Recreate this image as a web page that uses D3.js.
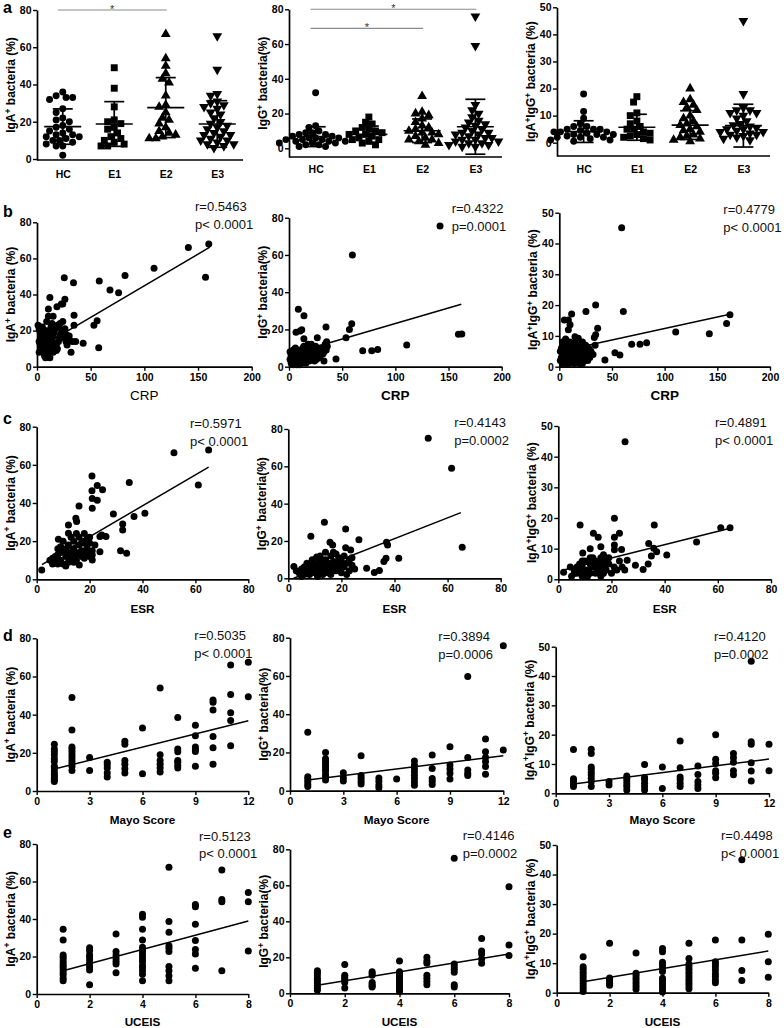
<!DOCTYPE html>
<html><head><meta charset="utf-8">
<script src="https://cdn.jsdelivr.net/npm/d3@7"></script>
<style>body{margin:0;background:#fff}</style>
</head><body><svg id="c" width="784" height="1028"></svg>
<script>
// ---------------- DATA ----------------
const groupCats = ["HC","E1","E2","E3"];
const igaGroups = [
 [36,33,34,32,33,27,25,22,21,20,18,17,16,15,14,13,13,12,12,11,10,10,9,8,7,7,2],
 [49,38,28,21,20,19,17,16,14,12,11,10,9,8,7,7],
 [67,54,50,46,43,41,34,29,28,25,22,21,19,17,15,14,13,12,11,11],
 [66,48,35,34,31,30,29,28,27,25,24,22,20,19,18,17,16,15,14,13,13,12,11,10,10,9,8,8,7,6]];
const igaMean = [17.4,18.8,27.6,18.8];
const igaSD = [9.5,12,16.1,12.5];
const iggGroups = [
 [32,13,12,10,9,9,8,8,7,7,6,6,5,5,5,4,4,4,3,3,2,2,1,1,3,6],
 [18,15,14,12,11,10,10,9,8,8,7,6,5,5,4,3,2],
 [30,21,20,19,17,15,13,12,11,10,9,9,8,7,6,5,5,4,3,2],
 [76,59,25,22,20,18,16,15,14,13,12,11,10,9,9,8,8,7,6,6,5,5,4,4,3,3,2,2,1,1]];
const iggMean = [6.7,8,10.1,12.4];
const iggSD = [5.7,4.8,6.8,15.8];
const dblGroups = [
 [18,11.5,9,7,6,5,5,4.5,4,4,3.5,3,3,2.5,2,2,1.5,1,1,0.5,3,4,5,6,2],
 [17,15,11,10,8,7,6,5,5,4,3.5,3,2.5,2,1.5,1],
 [20,16,15,14,13,12,10,9,8,7,6.5,6,5,4.5,4,3,2.5,2,1.5,1,0.5],
 [45,18,13,12,12,11,11,10,9,8,7,6.5,6,5.5,5,5,4.5,4,4,3.5,3,3,2.5,2,1.5,1]];
const dblMean = [4.1,5.7,6.5,6.3];
const dblSD = [4.0,4.8,5.3,7.9];
// significance bars: [group i, group j, y value, label]
const sigIgA = [[0,2,80,"*"]];
const sigIgG = [[0,3,80,"*"],[0,2,69,"*"]];

const crpIgA = [[141,66],[160,68],[157,49.5],[109,54.5],[82,50.5],[76,41],[68,42.5],[58,47.5],[57.5,10.5],[56,25.5],[53,23],[43,13],[34,46.5],[34.5,28.5],[34.5,23],[36,14],[31.7,8],[25.4,49.3],[26,37.3],[24,34.7],[22.7,34.7],[18.6,33.2],[12,38.4],[10.6,32],[10.6,28],[15,28],[21.4,24],[24,25],[27.6,17.6],
 [1,23],[2,21],[3,19],[5,22],[6,20],[7,18],[8,16],[9,14],[4,15],[2,14],[3,12],[5,10],[6,9],[2,8],[7,6],[8,5],[10,7],[11,9],[12,11],[13,13],[14,15],[15,17],[16,19],[17,21],[18,12],[19,10],[20,14],[21,16],[22,18],[23,20],[12,16],[11,19],[13,22],[14,24],[9,12],[10,15],[16,13],[18,9],[20,22],[25,16],[27,14],[29,15],[30,17],[33,14],[6,13],[4,17],[8,20],[15,8],[17,11],[19,23],[26,21],[28,12],[12,5],[9,25],[14,19]];
const crpIgG = [[59.6,60],[142,75.5],[159.3,17.4],[162.5,17.6],[8.8,30.8],[14.1,27.4],[34.8,21.3],[59,23],[56.8,20],[53.6,15.5],[6.6,18.5],[12,19.8],[10.4,19.2],[14,15],[69.3,8.6],[77.8,8.6],[83.4,9.3],[110.7,11.6],[44.2,4.1],[32.9,3],[35.4,13.4],[26.6,15.5],
 [1,8],[2,6],[3,5],[4,9],[5,3],[6,7],[7,4],[8,2],[9,6],[10,8],[11,3],[12,5],[13,10],[14,7],[15,4],[16,9],[17,11],[18,6],[19,3],[20,8],[21,12],[22,5],[23,9],[24,7],[25,11],[26,4],[27,8],[28,6],[30,10],[32,7],[34,12],[35,9],[2,2],[4,1],[6,10],[8,9],[10,1],[12,2],[14,11],[16,2],[18,12],[20,4],[22,10],[3,7],[5,6],[7,8],[9,5],[11,6],[13,3],[15,7],[17,5],[19,9],[21,6],[24,3],[26,10],[29,5],[33,8],[36,11],[1,4],[7,1]];
const crpDbl = [[59.2,45.1],[34.5,20],[60.8,17.9],[25.3,17.9],[11.7,17.1],[4.8,15.2],[8.6,15.2],[10.2,13.6],[36.4,12.5],[34.5,10.4],[33.2,9.5],[110.5,11.3],[142.4,10.7],[158.8,14],[162,16.9],[68.7,7.3],[76.6,7.3],[82.9,7.8],[52.8,4.5],[57.5,3.8],[43.3,2.2],[25,2.7],[14.9,9.7],[18,9.2],[8.6,12],
 [1,5],[2,3],[3,1],[4,6],[5,2],[6,4],[7,1],[8,7],[9,3],[10,5],[11,2],[12,6],[13,4],[14,1],[15,8],[16,3],[17,5],[18,2],[19,7],[20,4],[21,6],[22,1],[23,3],[24,5],[25,7],[26,4],[27,2],[28,6],[30,5],[32,4],[34,7],[2,6],[4,3],[6,2],[8,5],[10,8],[12,3],[14,6],[16,7],[18,4],[20,2],[3,8],[5,5],[7,4],[9,1],[11,7],[13,2],[15,5],[17,3],[19,1],[24,2],[29,3],[1,2],[6,9],[22,8]];

const esrIgA = [[1.9,4.9],[51.9,66.4],[65,67.8],[61.1,49.4],[35,50.8],[40.9,34.6],[36.8,32.9],[29,34.2],[32.5,29],[32.5,25.8],[31.7,15],[34,13.6],[20.9,54.2],[20.9,46.4],[21,42.4],[22.9,49.2],[22.9,41.5],[24.9,47],[21,37.2],[16,38.4],[14.8,32],[15.1,30.3],[12,28.5],[12,24.1],[24.6,23.2],[26.2,22.4],[23.9,22.4],[23.9,14.5],[21,12.8],[21,10.1],[16.1,7.5],[8.2,21],
 [5,10],[6,11],[7,12],[7,9],[8,13],[8,8],[9,14],[9,10],[10,16],[10,8],[11,12],[11,15],[12,18],[12,9],[13,14],[13,11],[14,20],[14,16],[15,13],[15,10],[16,22],[16,18],[17,15],[17,12],[18,24],[18,20],[19,17],[19,14],[20,22],[20,19],[21,15],[22,18],[9,17],[10,20],[11,7],[13,22],[8,16],[12,13],[6,8],[14,9],[16,14],[18,11],[19,21],[20,12],[17,19],[15,24]];
const esrIgG = [[52.7,75],[61.5,59],[65.5,16.7],[13.6,30],[21.6,26.4],[8.5,22.5],[26.6,20.7],[37,19.3],[37.4,17.8],[15.7,19.3],[16.7,17.8],[21.6,16.4],[23.5,15.2],[10.7,11.4],[41.6,10.7],[36.8,10.7],[36,9],[29.5,5.4],[34.3,4.2],[32.4,3.1],[2.1,6.3],
 [4,3],[5,5],[6,2],[6,6],[7,4],[8,7],[8,2],[9,5],[10,3],[10,8],[11,1],[11,6],[12,4],[12,9],[13,2],[13,7],[14,5],[14,10],[15,3],[15,8],[16,6],[16,12],[17,4],[17,9],[18,7],[18,13],[19,5],[19,11],[20,3],[20,9],[21,6],[21,12],[22,8],[23,4],[23,10],[24,7],[25,5],[12,12],[9,10],[7,8],[5,1],[11,3],[13,5],[16,2],[18,4],[20,7],[22,2],[24,11],[14,14],[17,14],[3,4],[10,5],[19,8]];
const esrDbl = [[25.1,44.9],[8.2,17.7],[21.1,19.9],[36.1,17.7],[64.6,16.8],[61.1,16.8],[52,12.2],[13.2,15],[15,13.7],[21.1,13.7],[23,15],[34,11.7],[35.9,10.1],[37,9],[40.8,7.9],[35,7.6],[33.8,5],[31.9,3.2],[29,4.6],[25.9,6.2],[23.8,9.7],[21.1,11.2],[21.1,9.6],[16,10.6],[12,10],[9.2,8.6],[2,2.3],[4.5,4],
 [5,1],[6,3],[6,2],[7,4],[7,2],[8,3],[8,5],[9,1],[9,4],[10,2],[10,6],[11,3],[11,1],[12,5],[12,2],[13,4],[13,7],[14,2],[14,6],[15,3],[15,5],[16,1],[16,7],[17,4],[17,2],[18,6],[18,3],[19,5],[20,2],[21,4],[22,3],[23,6],[24,4],[25,3],[19,7],[17,8],[16,5],[12,7],[9,6]];

const mayoLevels = [1,2,3,4,5,6,7,8,9,10,11,12];
const mayoIgA = [[24.5,22,20.5,19,17,15.5,13,12,10.5,9,8,7,6,5],[49,32,23,22,20.5,19,17.5,16,14.5,13,10.8],[17.5,10.8],[15,13.7,12,9.4,7.3],[26,24.5,16,14,11.6,9.4],[33,9],[54,19,16,14,12,10],[38.5,22,20.5,16,15,13.5,12],[34.5,29,23,22,20.7,13],[47.7,46.5,42.4,28.5,22.7,14],[66,50.5,41,37,23.7],[67.4,49.4]];
const mayoIgG = [[30.5,7.3,6.1,4.8,3.4,2.2],[20,16.7,15.4,14,12.8,11.4,10.3,8.5,7.1,5.6],[9.4,6.8,5.1],[18.3,8,6.5,5,3.5],[6.6,5,3,1.6],[6.1],[15.5,13.4,11.6,9.9,8.1,6.4,4.6,2.9],[18.7,11.6,6.4,5,3.3],[23,13.4,11.3,9.1,6.1],[59.7,17.4,10.8,9.1,8],[27,20.4,17.4,15.2,12.6,8.6],[75.8,21.3]];
const mayoDbl = [[14.9,5,4.2,3.2,2.3],[15,13.6,9,8.2,7.2,6.2,5.1,4,2.3],[4,2.8],[5.9,5.1,4.2,3.2,2.3,1.1],[9.8,5.4,4.6,3.4,2.3,1.1],[9,1.6],[17.8,8.7,5.6,4.6,3.4,2.3],[9.3,6.4,4,2.8,1.6],[20,11.6,10.2,7.7,6.8,5.3],[13.6,12.1,10.6,7.7,6.3],[45,17.6,16.7,10.4,7.6,4.2],[16.7,7.7]];

const uceisLevels = [1,2,3,4,5,6,7,8];
const uceisIgA = [[34.5,28.8,20.8,19.6,18.1,16.7,15.4,14.2,12.8,11.4,10.1,8.4,7.1],[24.7,23.1,20.8,19.9,18.1,16.4,14.6,12.8,5],[32,22.7,20.8,19,17.3,16,11.4],[42.5,40.9,34.5,28.8,24.9,23.5,22,20.4,19,17.3,15.4,14,12.4,10.6,7.1],[67.6,38.7,32.9,25.8,24.4,22.7,14.7,12.4,9.7,7.1],[47.8,46.6,37.2,28.5,23.8,21.3,13.7],[66.1,50.4,49.2,12.4],[54.2,49.2,23]];
const uceisIgG = [[12.5,11.5,10.2,8.4,7.2,5.7,4.3,3,1.7],[16,10,9,8,7,6,3],[12,11,10,6,5,4,3.5],[18,12,11,10,9,8,7,6,5,4,3,2,1],[20,18,16.7,10,8.4,6.6,4.8],[75,16.3,14.8,13.3,11.7,4.8,3.5],[30.5,23.5,21.8,19.1,16.7],[59.2,26.9,21]];
const uceisDbl = [[12.2,8.8,7.9,6.9,6,5.1,4.1,3.2,2.3,1.3,0.4],[16.7,5,4.5,4,3.2,2.5],[13.4,6.6,5.8,4.9,4,3,2.1,1.2],[15,13.9,10.3,9.4,8.3,7.2,4.9,4,3,2.1,1.2,0.2],[16.7,11.6,9.7,8.8,7.9,6.9,6,5.1,4.1,3.2,2.3,1.3],[17.8,10.5,9.7,8.8,7.7,6.4,5.5,4.3,3.4],[45,17.8,7.5,4.1],[19.8,10.5,5.2]];

// regression lines [x0,y0,x1,y1] in data units
const fitCrp = [[1,10.2,161,66.2],[1,6.7,162,33.5],[1,5,162,17]];
const fitEsr = [[2,7.7,65,58.8],[2,0,65,35.2],[2,3,65,16.7]];
const fitMayo = [[1,11.5,12,36.8],[1,5.6,12,18.3],[1,3.2,12,11.7]];
const fitUceis = [[1,12.4,8,38.9],[1,4.5,8,21.8],[1,3.7,8,14.1]];
const statsCrp = [["r=0.5463","p< 0.0001"],["r=0.4322","p=0.0001"],["r=0.4779","p< 0.0001"]];
const statsEsr = [["r=0.5971","p< 0.0001"],["r=0.4143","p=0.0002"],["r=0.4891","p< 0.0001"]];
const statsMayo = [["r=0.5035","p< 0.0001"],["r=0.3894","p=0.0006"],["r=0.4120","p=0.0002"]];
const statsUceis = [["r=0.5123","p< 0.0001"],["r=0.4146","p=0.0002"],["r=0.4498","p< 0.0001"]];

const crpTicks = [0,50,100,150,200], esrTicks = [0,20,40,60,80], mayoTicks = [0,3,6,9,12], uceisTicks = [0,2,4,6,8];
const ticks80 = [0,20,40,60,80], ticks50 = [0,10,20,30,40,50];
const titleIgA = [["IgA",0],["+",1],[" bacteria (%)",0]];
const titleIgG = [["IgG",0],["+",1],[" bacteria(%)",0]];
const titleDbl = [["IgA",0],["+",1],["IgG",0],["+",1],[" bacteria (%)",0]];

// ---------------- DRAWING ----------------
const svg = d3.select("#c");
const F = '"Liberation Sans", Arial, Helvetica, sans-serif';

function mkY(p0, vTop, pTop, axisPx) {
  const s = d3.scaleLinear().domain([0, vTop]).range([p0, pTop]);
  if (axisPx !== undefined) { const lo = s.invert(axisPx); s.domain([lo, vTop]).range([axisPx, pTop]); }
  return s;
}
function styleAxis(g) {
  g.select(".domain").attr("stroke", "#000").attr("stroke-width", 1.7);
  g.selectAll(".tick line").attr("stroke", "#000").attr("stroke-width", 1.4);
  g.selectAll(".tick text").attr("fill", "#000").style("font-family", F).style("font-weight", "bold").style("font-size", "10.5px");
}
function yAxis(x, y, ticks) {
  const g = svg.append("g").attr("transform", `translate(${x},0)`)
    .call(d3.axisLeft(y).tickValues(ticks).tickFormat(d3.format("d")).tickSize(4).tickSizeOuter(0).tickPadding(1.5));
  styleAxis(g);
}
function yTitle(x, y, segs) {
  const t = svg.append("text").attr("transform", `translate(${x},${y}) rotate(-90)`).attr("text-anchor", "middle")
    .style("font-family", F).style("font-weight", "bold").style("font-size", "12px").attr("fill", "#000");
  let up = false;
  segs.forEach(s => {
    const ts = t.append("tspan").text(s[0]);
    if (s[1] && !up) { ts.attr("dy", -4.5).style("font-size", "8.5px"); up = true; }
    else if (!s[1] && up) { ts.attr("dy", 4.5); up = false; }
    else if (s[1]) ts.style("font-size", "8.5px");
  });
}
function letter(ch, y) {
  svg.append("text").attr("x", 3).attr("y", y).text(ch).style("font-family", F).style("font-weight", "bold").style("font-size", "16px");
}

// ---- Row a: scatter dot plots ----
const shapes = [d3.symbolCircle, d3.symbolSquare, d3.symbolTriangle, d3.symbolTriangle];
const shapeSize = [38, 48, 42, 42];
const shapeRot = [0, 0, 0, 180];

function swarm(vals, cx, y) {
  const placed = [], out = [];
  const sorted = vals.slice().sort((a, b) => b - a);
  const step = 3.3, minD = 5.6;
  sorted.forEach(v => {
    const py = y(v);
    for (let k = 0; k < 20; k++) {
      const cands = k === 0 ? [0] : [-k * step, k * step];
      let done = false;
      for (const o of cands) {
        const px = cx + o;
        if (placed.every(p => Math.hypot(p[0] - px, p[1] - py) >= minD)) { placed.push([px, py]); out.push([px, py]); done = true; break; }
      }
      if (done) break;
    }
  });
  return out;
}

function dotPanel(cfg) {
  const y = mkY(cfg.y0, cfg.vTop, cfg.pTop, cfg.axisY);
  const x = d3.scalePoint().domain(groupCats).range([cfg.x0, cfg.x1]).padding(0.5);
  yAxis(cfg.x0, y, cfg.ticks);
  const gx = svg.append("g").attr("transform", `translate(0,${cfg.axisY})`)
    .call(d3.axisBottom(x).tickSize(0).tickSizeOuter(0).tickPadding(cfg.tickPad));
  gx.select(".domain").attr("d", `M${cfg.x0},0H${cfg.x1}`);
  styleAxis(gx);
  yTitle(cfg.x0 - 22, (cfg.axisY + cfg.pTop) / 2, cfg.title);
  groupCats.forEach((c, i) => {
    const pts = swarm(cfg.groups[i], x(c), y);
    svg.append("g").selectAll("path").data(pts).join("path")
      .attr("d", d3.symbol().type(shapes[i]).size(shapeSize[i]))
      .attr("transform", d => `translate(${d[0]},${d[1]}) rotate(${shapeRot[i]})`).attr("fill", "#000");
    const m = cfg.mean[i], s = cfg.sd[i], cx = x(c);
    const g = svg.append("g").attr("stroke", "#000").attr("stroke-width", 1.7);
    g.append("line").attr("x1", cx - 18.5).attr("x2", cx + 18.5).attr("y1", y(m)).attr("y2", y(m));
    g.append("line").attr("x1", cx).attr("x2", cx).attr("y1", y(m - s)).attr("y2", y(m + s));
    [m - s, m + s].forEach(v => g.append("line").attr("x1", cx - 10).attr("x2", cx + 10).attr("y1", y(v)).attr("y2", y(v)));
  });
  (cfg.sig || []).forEach(sg => {
    const x1 = x(groupCats[sg[0]]) - 5, x2 = x(groupCats[sg[1]]) + 1, yy = y(sg[2]);
    svg.append("line").attr("x1", x1).attr("x2", x2).attr("y1", yy).attr("y2", yy).attr("stroke", "#8a8a8a").attr("stroke-width", 1.1);
    svg.append("text").attr("x", (x1 + x2) / 2).attr("y", yy + 3).attr("text-anchor", "middle").text(sg[3])
      .style("font-family", F).style("font-size", "11px").attr("fill", "#333");
  });
}

dotPanel({groups: igaGroups, mean: igaMean, sd: igaSD, x0: 37, x1: 243, y0: 159, vTop: 80, pTop: 10, axisY: 160, ticks: ticks80, title: titleIgA, tickPad: 11, sig: sigIgA});
dotPanel({groups: iggGroups, mean: iggMean, sd: iggSD, x0: 289, x1: 502, y0: 148.3, vTop: 80, pTop: 9.3, axisY: 157, ticks: ticks80, title: titleIgG, tickPad: 9, sig: sigIgG});
dotPanel({groups: dblGroups, mean: dblMean, sd: dblSD, x0: 557, x1: 770, y0: 142.7, vTop: 50, pTop: 7.3, axisY: 156, ticks: ticks50, title: titleDbl, tickPad: 10});
letter("a", 12.7);

// ---- Scatter panels ----
function scatterPanel(cfg) {
  const y = mkY(cfg.y0, cfg.vTop, cfg.pTop);
  const x = d3.scaleLinear().domain([0, cfg.xMax]).range([cfg.x0, cfg.x1]);
  yAxis(cfg.x0, y, cfg.vTop === 50 ? ticks50 : ticks80);
  const gx = svg.append("g").attr("transform", `translate(0,${cfg.y0})`)
    .call(d3.axisBottom(x).tickValues(cfg.xTicks).tickFormat(d3.format("d")).tickSize(4).tickSizeOuter(0).tickPadding(2.5));
  styleAxis(gx);
  yTitle(cfg.x0 - 22, (cfg.y0 + cfg.pTop) / 2, cfg.title);
  svg.append("text").attr("x", (cfg.x0 + cfg.x1) / 2).attr("y", cfg.xtY).attr("text-anchor", "middle").text(cfg.xTitle)
    .style("font-family", F).style("font-weight", cfg.xtBold ? "bold" : "normal").style("font-size", cfg.xtSize + "px");
  svg.append("g").selectAll("circle").data(cfg.pts).join("circle")
    .attr("cx", d => x(d[0])).attr("cy", d => y(d[1])).attr("r", 3.5).attr("fill", "#000");
  const f = cfg.fit;
  svg.append("line").attr("x1", x(f[0])).attr("y1", y(f[1])).attr("x2", x(f[2])).attr("y2", y(f[3]))
    .attr("stroke", "#000").attr("stroke-width", 1.5);
  const t = svg.append("g").style("font-family", F).style("font-size", "13px").attr("fill", "#111");
  t.append("text").attr("x", cfg.sx).attr("y", cfg.sy).text(cfg.stats[0]);
  t.append("text").attr("x", cfg.sx).attr("y", cfg.sy + 17.5).text(cfg.stats[1]);
}
function expand(levels, groups) {
  const out = [];
  levels.forEach((l, i) => groups[i].forEach(v => out.push([l, v])));
  return out;
}

// Row b (CRP)
scatterPanel({pts: crpIgA, x0: 37, x1: 251.7, xMax: 200, xTicks: crpTicks, y0: 366.7, vTop: 80, pTop: 222.3, title: titleIgA, fit: fitCrp[0], stats: statsCrp[0], sx: 195, sy: 211, xTitle: "CRP", xtY: 400, xtBold: false, xtSize: 13.5});
scatterPanel({pts: crpIgG, x0: 289, x1: 501.7, xMax: 200, xTicks: crpTicks, y0: 366.7, vTop: 80, pTop: 217.7, title: titleIgG, fit: fitCrp[1], stats: statsCrp[1], sx: 451.7, sy: 213, xTitle: "CRP", xtY: 400, xtBold: true, xtSize: 13.5});
scatterPanel({pts: crpDbl, x0: 559.3, x1: 770, xMax: 200, xTicks: crpTicks, y0: 366.7, vTop: 50, pTop: 212.7, title: titleDbl, fit: fitCrp[2], stats: statsCrp[2], sx: 723.3, sy: 214, xTitle: "CRP", xtY: 400, xtBold: true, xtSize: 13.5});
letter("b", 216.7);

// Row c (ESR)
scatterPanel({pts: esrIgA, x0: 36.7, x1: 248.3, xMax: 80, xTicks: esrTicks, y0: 579.3, vTop: 80, pTop: 426.7, title: titleIgA, fit: fitEsr[0], stats: statsEsr[0], sx: 190, sy: 428, xTitle: "ESR", xtY: 613, xtBold: true, xtSize: 11.7});
scatterPanel({pts: esrIgG, x0: 288.3, x1: 500.7, xMax: 80, xTicks: esrTicks, y0: 578.3, vTop: 80, pTop: 429, title: titleIgG, fit: fitEsr[1], stats: statsEsr[1], sx: 454.3, sy: 427, xTitle: "ESR", xtY: 613, xtBold: true, xtSize: 11.7});
scatterPanel({pts: esrDbl, x0: 558.3, x1: 771, xMax: 80, xTicks: esrTicks, y0: 579.3, vTop: 50, pTop: 426, title: titleDbl, fit: fitEsr[2], stats: statsEsr[2], sx: 715, sy: 427, xTitle: "ESR", xtY: 613, xtBold: true, xtSize: 11.7});
letter("c", 424);

// Row d (Mayo)
scatterPanel({pts: expand(mayoLevels, mayoIgA), x0: 36.7, x1: 248.3, xMax: 12, xTicks: mayoTicks, y0: 791, vTop: 80, pTop: 638.3, title: titleIgA, fit: fitMayo[0], stats: statsMayo[0], sx: 194.3, sy: 640, xTitle: "Mayo Score", xtY: 824, xtBold: true, xtSize: 11.7});
scatterPanel({pts: expand(mayoLevels, mayoIgG), x0: 290, x1: 503.3, xMax: 12, xTicks: mayoTicks, y0: 790.7, vTop: 80, pTop: 637.7, title: titleIgG, fit: fitMayo[1], stats: statsMayo[1], sx: 438.3, sy: 641, xTitle: "Mayo Score", xtY: 824, xtBold: true, xtSize: 11.7});
scatterPanel({pts: expand(mayoLevels, mayoDbl), x0: 555.7, x1: 769, xMax: 12, xTicks: mayoTicks, y0: 793.3, vTop: 50, pTop: 646.7, title: titleDbl, fit: fitMayo[2], stats: statsMayo[2], sx: 714, sy: 641, xTitle: "Mayo Score", xtY: 824, xtBold: true, xtSize: 11.7});
letter("d", 640.7);

// Row e (UCEIS)
scatterPanel({pts: expand(uceisLevels, uceisIgA), x0: 36.7, x1: 248.3, xMax: 8, xTicks: uceisTicks, y0: 994, vTop: 80, pTop: 844, title: titleIgA, fit: fitUceis[0], stats: statsUceis[0], sx: 199, sy: 840.7, xTitle: "UCEIS", xtY: 1026, xtBold: true, xtSize: 11.7});
scatterPanel({pts: expand(uceisLevels, uceisIgG), x0: 290, x1: 509, xMax: 8, xTicks: uceisTicks, y0: 993.3, vTop: 80, pTop: 849.3, title: titleIgG, fit: fitUceis[1], stats: statsUceis[1], sx: 462.7, sy: 840, xTitle: "UCEIS", xtY: 1026, xtBold: true, xtSize: 11.7});
scatterPanel({pts: expand(uceisLevels, uceisDbl), x0: 556.7, x1: 768.3, xMax: 8, xTicks: uceisTicks, y0: 992.7, vTop: 50, pTop: 845, title: titleDbl, fit: fitUceis[2], stats: statsUceis[2], sx: 721, sy: 840, xTitle: "UCEIS", xtY: 1026, xtBold: true, xtSize: 11.7});
letter("e", 838.3);
</script>
</body></html>
